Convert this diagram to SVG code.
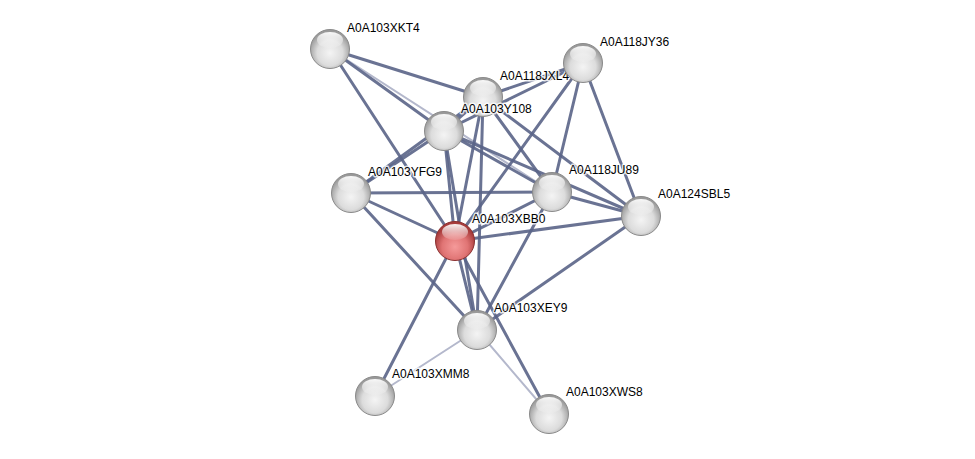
<svg xmlns="http://www.w3.org/2000/svg" width="975" height="459" viewBox="0 0 975 459">
<style>
.e{stroke:#5a6488;stroke-width:3;stroke-linecap:round;opacity:0.9}
.l{stroke:#b4b8cc;stroke-width:2;stroke-linecap:round}
.n{fill:url(#g);stroke:#8a8a8a;stroke-width:1}
.r{fill:url(#rg);stroke:#8a3030;stroke-width:1}
.h{fill:url(#hl)}
text{font-family:"Liberation Sans",Arial,sans-serif;font-size:12px;fill:#000;stroke:#fff;stroke-width:3;stroke-opacity:0.8;paint-order:stroke;stroke-linejoin:round}
</style>
<defs>
<radialGradient id="g" cx="50%" cy="60%" r="55%">
<stop offset="0" stop-color="#f4f4f4"/>
<stop offset="0.6" stop-color="#dcdcdc"/>
<stop offset="1" stop-color="#9a9a9a"/>
</radialGradient>
<radialGradient id="rg" cx="50%" cy="65%" r="55%">
<stop offset="0" stop-color="#f59a9a"/>
<stop offset="0.6" stop-color="#e07474"/>
<stop offset="1" stop-color="#a83c3c"/>
</radialGradient>
<linearGradient id="hl" x1="0" y1="0" x2="0" y2="1">
<stop offset="0" stop-color="#fff" stop-opacity="0.95"/>
<stop offset="1" stop-color="#fff" stop-opacity="0.1"/>
</linearGradient>
</defs>
<rect width="975" height="459" fill="#fff"/>
<g id="edges">
<line class="l" x1="330" y1="49" x2="552" y2="192"/>
<line class="l" x1="477" y1="330" x2="375" y2="396"/>
<line class="l" x1="477" y1="330" x2="549" y2="414"/>
<line class="e" x1="330" y1="49" x2="483" y2="97"/>
<line class="e" x1="330" y1="49" x2="444" y2="131"/>
<line class="e" x1="330" y1="49" x2="455" y2="241"/>
<line class="e" x1="583" y1="63" x2="483" y2="97"/>
<line class="e" x1="583" y1="63" x2="444" y2="131"/>
<line class="e" x1="583" y1="63" x2="455" y2="241"/>
<line class="e" x1="583" y1="63" x2="552" y2="192"/>
<line class="e" x1="583" y1="63" x2="641" y2="216"/>
<line class="e" x1="483" y1="97" x2="444" y2="131"/>
<line class="e" x1="483" y1="97" x2="351" y2="193"/>
<line class="e" x1="483" y1="97" x2="552" y2="192"/>
<line class="e" x1="483" y1="97" x2="641" y2="216"/>
<line class="e" x1="483" y1="97" x2="455" y2="241"/>
<line class="e" x1="483" y1="97" x2="477" y2="330"/>
<line class="e" x1="444" y1="131" x2="351" y2="193"/>
<line class="e" x1="444" y1="131" x2="455" y2="241"/>
<line class="e" x1="444" y1="131" x2="477" y2="330"/>
<line class="e" x1="444" y1="131" x2="552" y2="192"/>
<line class="e" x1="444" y1="131" x2="641" y2="216"/>
<line class="e" x1="351" y1="193" x2="552" y2="192"/>
<line class="e" x1="351" y1="193" x2="455" y2="241"/>
<line class="e" x1="351" y1="193" x2="477" y2="330"/>
<line class="e" x1="552" y1="192" x2="455" y2="241"/>
<line class="e" x1="552" y1="192" x2="641" y2="216"/>
<line class="e" x1="552" y1="192" x2="477" y2="330"/>
<line class="e" x1="641" y1="216" x2="455" y2="241"/>
<line class="e" x1="641" y1="216" x2="477" y2="330"/>
<line class="e" x1="455" y1="241" x2="477" y2="330"/>
<line class="e" x1="455" y1="241" x2="375" y2="396"/>
<line class="e" x1="455" y1="241" x2="549" y2="414"/>
</g>
<g id="A0A103XKT4"><circle class="n" cx="330" cy="49" r="19.5"/><ellipse class="h" cx="330" cy="40" rx="13" ry="8"/><text x="347" y="32">A0A103XKT4</text></g>
<g id="A0A118JXL4"><circle class="n" cx="483" cy="97" r="19.5"/><ellipse class="h" cx="483" cy="88" rx="13" ry="8"/><text x="500" y="80">A0A118JXL4</text></g>
<g id="A0A118JY36"><circle class="n" cx="583" cy="63" r="19.5"/><ellipse class="h" cx="583" cy="54" rx="13" ry="8"/><text x="600" y="46">A0A118JY36</text></g>
<g id="A0A103Y108"><circle class="n" cx="444" cy="131" r="19.5"/><ellipse class="h" cx="444" cy="122" rx="13" ry="8"/><text x="461" y="113">A0A103Y108</text></g>
<g id="A0A103YFG9"><circle class="n" cx="351" cy="193" r="19.5"/><ellipse class="h" cx="351" cy="184" rx="13" ry="8"/><text x="368" y="176">A0A103YFG9</text></g>
<g id="A0A118JU89"><circle class="n" cx="552" cy="192" r="19.5"/><ellipse class="h" cx="552" cy="183" rx="13" ry="8"/><text x="569" y="174">A0A118JU89</text></g>
<g id="A0A124SBL5"><circle class="n" cx="641" cy="216" r="19.5"/><ellipse class="h" cx="641" cy="207" rx="13" ry="8"/><text x="658" y="198">A0A124SBL5</text></g>
<g id="A0A103XBB0"><circle class="r" cx="455" cy="241" r="19.5"/><ellipse class="h" cx="455" cy="232" rx="13" ry="8"/><text x="472" y="223">A0A103XBB0</text></g>
<g id="A0A103XEY9"><circle class="n" cx="477" cy="330" r="19.5"/><ellipse class="h" cx="477" cy="321" rx="13" ry="8"/><text x="494" y="312">A0A103XEY9</text></g>
<g id="A0A103XMM8"><circle class="n" cx="375" cy="396" r="19.5"/><ellipse class="h" cx="375" cy="387" rx="13" ry="8"/><text x="392" y="378">A0A103XMM8</text></g>
<g id="A0A103XWS8"><circle class="n" cx="549" cy="414" r="19.5"/><ellipse class="h" cx="549" cy="405" rx="13" ry="8"/><text x="566" y="396">A0A103XWS8</text></g>
</svg>
